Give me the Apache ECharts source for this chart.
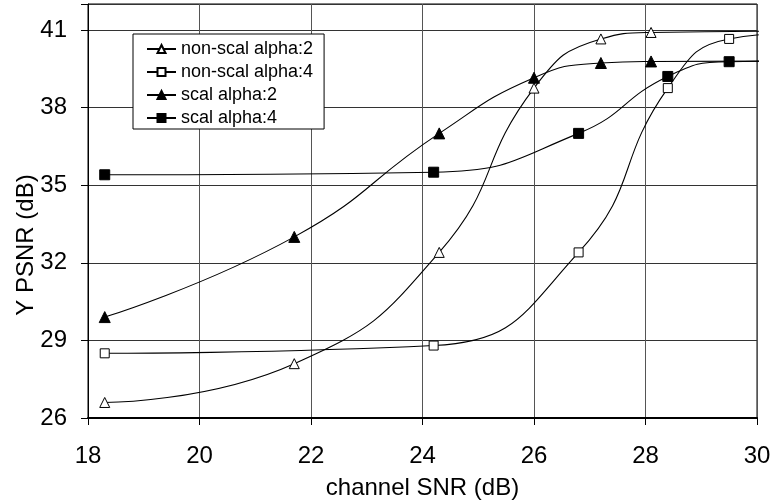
<!DOCTYPE html>
<html>
<head>
<meta charset="utf-8">
<script src="https://cdn.jsdelivr.net/npm/echarts@6/dist/echarts.min.js"></script>
<style>
html,body{margin:0;padding:0;background:#fff;}
#chart{width:771px;height:501px;}
</style>
</head>
<body>
<div id="chart"></div>
<script>
// Data (x = channel SNR dB, y = Y PSNR dB)
const seriesNames = ['non-scal alpha:2', 'non-scal alpha:4', 'scal alpha:2', 'scal alpha:4'];
const alpha2X = [18.3, 21.7, 24.3, 26.0, 27.2, 28.1, 31];
const alpha4X = [18.3, 24.2, 26.8, 28.4, 29.5, 31];
const nonScalA2 = [26.6, 28.1, 32.4, 38.75, 40.65, 40.9, 40.95];
const nonScalA4 = [28.5, 28.8, 32.4, 38.75, 40.65, 40.92];
const scalA2 = [29.9, 33.0, 37.0, 39.15, 39.72, 39.78, 39.8];
const scalA4 = [35.4, 35.5, 37.0, 39.2, 39.77, 39.8];
const xTicks = [18, 20, 22, 24, 26, 28, 30];
const yTicks = [26, 29, 32, 35, 38, 41];

const FONT = 'Liberation Sans, Arial, sans-serif';

function pts(xs, ys) {
  // the last point lies outside the plotted range; it only carries the curve to the edge
  return xs.map((x, i) => i === xs.length - 1
    ? { value: [x, ys[i]], symbol: 'none' }
    : [x, ys[i]]);
}

function mkSeries(name, xs, ys, symbol, filled, size) {
  return {
    name: name,
    type: 'line',
    data: pts(xs, ys),
    smooth: 0.5,
    clip: true,
    symbol: symbol,
    symbolSize: size,
    showAllSymbol: true,
    lineStyle: { color: '#000', width: 1.1 },
    itemStyle: { color: filled ? '#000' : '#fff', borderColor: '#000', borderWidth: 1 },
    emphasis: { disabled: true },
    z: 3
  };
}

const chart = echarts.init(document.getElementById('chart'), null, { renderer: 'canvas' });
chart.setOption({
  animation: false,
  backgroundColor: '#fff',
  textStyle: { fontFamily: FONT, color: '#000' },
  grid: {
    left: 88, right: 14, top: 4, bottom: 83,
    containLabel: false,
    outerBoundsMode: 'none',
    show: true, borderColor: '#000', borderWidth: 1
  },
  legend: {
    orient: 'vertical',
    left: 133, top: 34,
    padding: [6, 11, 2, 13],
    itemGap: 5,
    itemWidth: 29,
    itemHeight: 10,
    backgroundColor: '#fff',
    borderColor: '#000',
    borderWidth: 1,
    borderRadius: 0,
    textStyle: { fontFamily: FONT, fontSize: 18, color: '#000' },
    data: seriesNames
  },
  xAxis: {
    type: 'value',
    min: xTicks[0], max: xTicks[xTicks.length - 1], interval: 2,
    name: 'channel SNR (dB)',
    nameLocation: 'middle',
    nameGap: 58,
    nameMoveOverlap: false,
    nameTextStyle: { fontFamily: FONT, fontSize: 24, color: '#000' },
    axisLine: { show: true, lineStyle: { color: '#000', width: 2 } },
    axisTick: { show: true, inside: false, length: 7, lineStyle: { color: '#000' } },
    axisLabel: { fontFamily: FONT, fontSize: 24, color: '#000', margin: 26 },
    splitLine: { show: true, lineStyle: { color: '#555', width: 1 } }
  },
  yAxis: {
    type: 'value',
    min: yTicks[0], max: 42, interval: 3,
    name: 'Y PSNR (dB)',
    nameLocation: 'middle',
    nameGap: 50,
    nameMoveOverlap: false,
    nameRotate: 90,
    nameTextStyle: { fontFamily: FONT, fontSize: 24, color: '#000', padding: [0, 68, 0, 0] },
    axisLine: { show: true, lineStyle: { color: '#000', width: 1 } },
    axisTick: { show: true, inside: false, length: 7, lineStyle: { color: '#000' } },
    axisLabel: {
      fontFamily: FONT, fontSize: 24, color: '#000', margin: 21,
      formatter: v => (yTicks.indexOf(v) >= 0 ? String(v) : '')
    },
    splitLine: { show: true, lineStyle: { color: '#333', width: 1 } }
  },
  series: [
    mkSeries(seriesNames[0], alpha2X, nonScalA2, 'triangle', false, 10),
    mkSeries(seriesNames[1], alpha4X, nonScalA4, 'rect', false, 9),
    mkSeries(seriesNames[2], alpha2X, scalA2, 'triangle', true, 11),
    mkSeries(seriesNames[3], alpha4X, scalA4, 'rect', true, 10)
  ]
});
</script>
</body>
</html>
